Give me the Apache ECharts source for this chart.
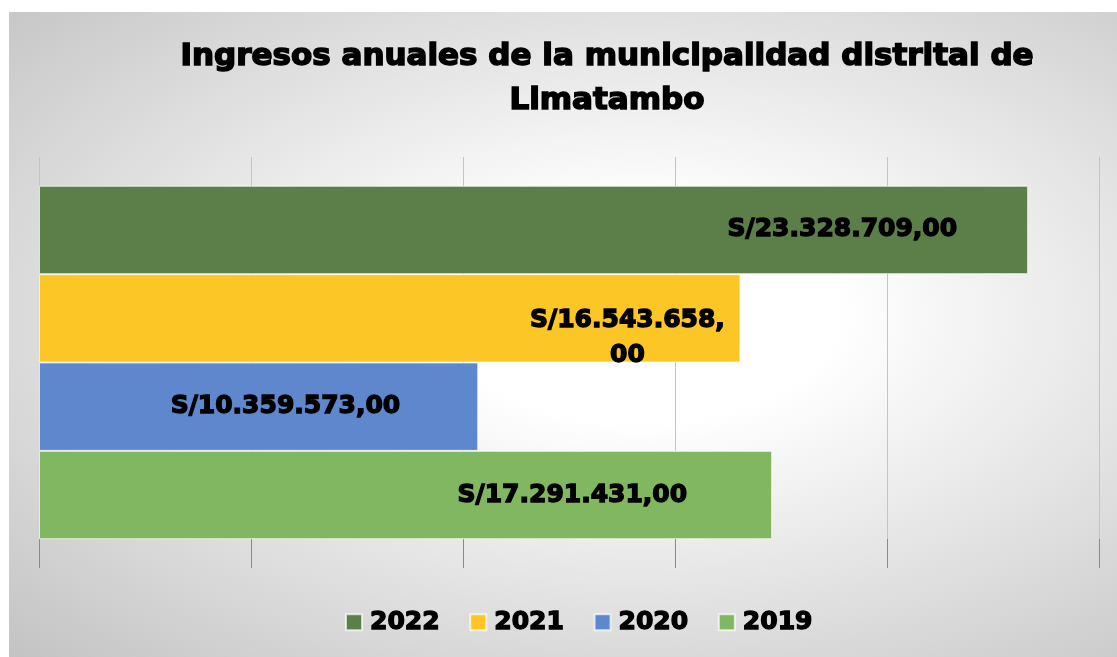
<!DOCTYPE html>
<html>
<head>
<meta charset="utf-8">
<script src="https://cdn.jsdelivr.net/npm/echarts@6/dist/echarts.min.js"></script>
<style>
  html, body { margin: 0; padding: 0; background: #fff; }
  #chart {
    position: absolute; left: 9px; top: 12px; width: 1108px; height: 645px;
    background: radial-gradient(ellipse farthest-corner at 57% 47%, #ffffff 0%, #ffffff 22%, #c3c3c3 100%);
  }
</style>
</head>
<body>
<div id="chart"></div>
<script>
// data
const years = ['2022', '2021', '2020', '2019']
const ingresos = [23328709, 16543658, 10359573, 17291431]
const category = ['Ingresos']
const xMax = 25000000
const xStep = 5000000

const colors = ['#5C7E48', '#FCC626', '#5E87CD', '#82B762']
// label offset from bar end, per year
const labelDist = [71, 113, 78, 85]

const fmt = v => 'S/' + Math.round(v).toString().replace(/\B(?=(\d{3})+(?!\d))/g, '.') + ',00'

const labelFont = {
  color: '#000',
  fontFamily: 'DejaVu Sans',
  fontWeight: 'bold',
  fontSize: 25,
  textBorderColor: '#000',
  textBorderWidth: 1.4
}

const series = years.map((y, i) => {
  const wrap = y === '2021'
  return {
    name: y,
    type: 'bar',
    barGap: 0,
    barCategoryGap: '14%',
    data: [ingresos[i]],
    itemStyle: { color: colors[i], borderColor: 'rgba(255,255,255,0.7)', borderWidth: 1 },
    label: Object.assign({
      show: true,
      position: 'insideRight',
      distance: labelDist[i],
      align: wrap ? 'center' : 'right',
      offset: wrap ? [0, 20] : [0, 0],
      lineHeight: 35,
      formatter: p => wrap ? fmt(p.value).replace(',', ',\n') : fmt(p.value)
    }, labelFont)
  }
})

const chart = echarts.init(document.getElementById('chart'))
chart.setOption({
  backgroundColor: 'transparent',
  animation: false,
  title: {
    text: 'Ingresos anuales de la municipalidad distrital de\nLimatambo',
    left: 598,
    top: 23,
    padding: 0,
    textAlign: 'center',
    textStyle: {
      color: '#000',
      fontFamily: 'DejaVu Sans',
      fontWeight: 'bold',
      fontSize: 31,
      lineHeight: 44,
      textBorderColor: '#000',
      textBorderWidth: 1.6
    }
  },
  legend: {
    data: years,
    left: 336,
    top: 597,
    padding: 0,
    icon: 'rect',
    itemWidth: 16,
    itemHeight: 16,
    itemGap: 29,
    textStyle: Object.assign({}, labelFont, { padding: [0, 0, 0, 3] })
  },
  grid: { left: 30, right: 18, top: 145, bottom: 89 },
  xAxis: {
    type: 'value',
    min: 0,
    max: xMax,
    interval: xStep,
    axisLabel: { show: false },
    axisLine: { show: false },
    axisTick: { show: true, inside: true, length: 29, lineStyle: { color: '#8a8a8a' } },
    splitLine: { show: true, lineStyle: { color: '#c4c4c4', width: 1 } }
  },
  yAxis: {
    type: 'category',
    data: category,
    show: false
  },
  series: series
})
</script>
</body>
</html>
